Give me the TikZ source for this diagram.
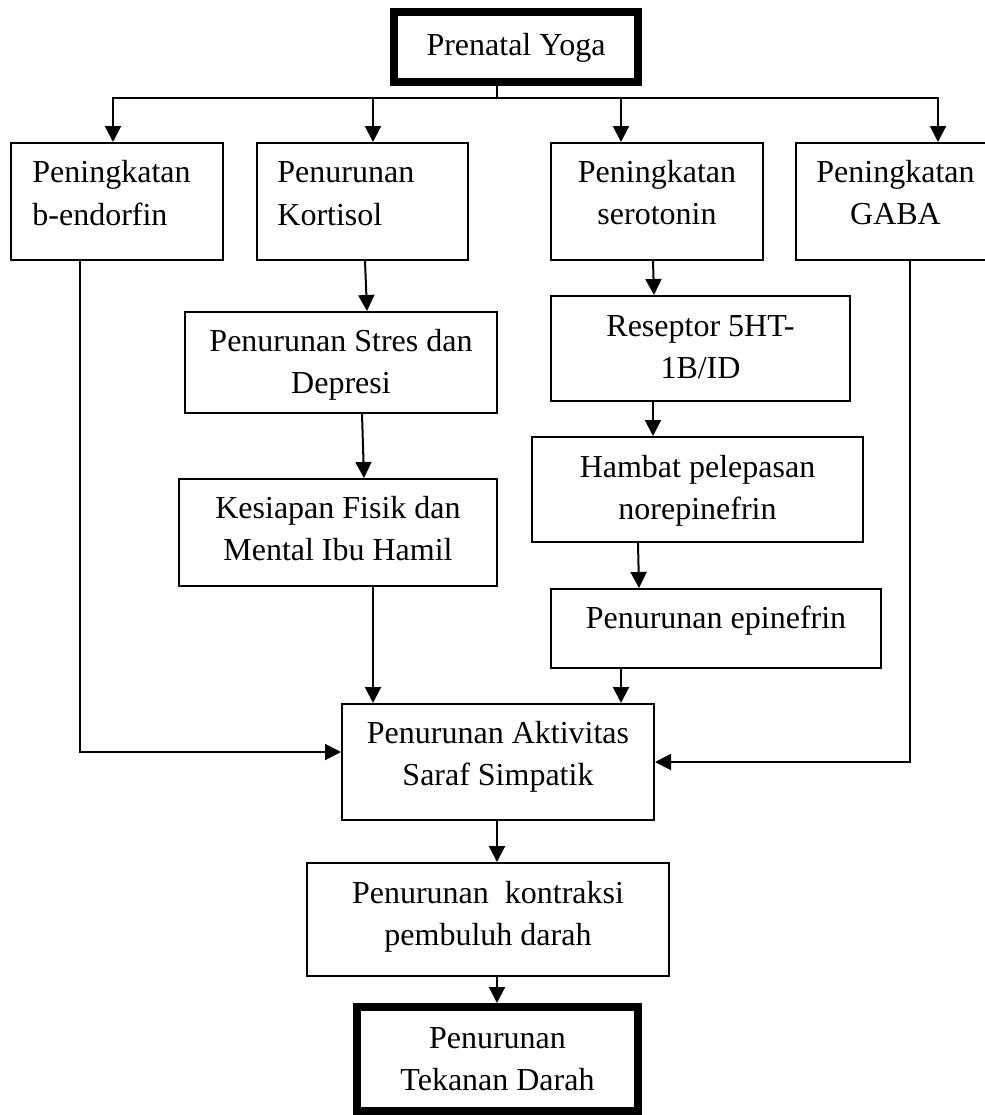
\documentclass[tikz,border=0pt]{standalone}
\usepackage{fontspec}
\setmainfont{Liberation Serif}
\usetikzlibrary{arrows.meta,calc}
\begin{document}
\begin{tikzpicture}[x=0.5pt,y=-0.5pt,
  box/.style={draw, line width=1pt, inner sep=0pt},
  thickbox/.style={draw, line width=4pt, inner sep=0pt},
  txt/.style={font=\fontsize{16}{21}\selectfont, align=center, anchor=base, inner sep=0pt},
  ltxt/.style={font=\fontsize{16}{21.5}\selectfont, align=left, anchor=base west, inner sep=0pt},
  arr/.style={line width=1pt, -{Triangle[length=8pt,width=8pt]}},
  ln/.style={line width=1pt, line cap=rect}]
\useasboundingbox (0,0) rectangle (985,1115);
\fill[white] (0,0) rectangle (985,1115);

% boxes
\node[thickbox, minimum width=122pt, minimum height=35pt] (yoga) at (516,47) {};
\node[box, minimum width=106pt, minimum height=58.5pt] (b1) at (117,201.5) {};
\node[box, minimum width=105.5pt, minimum height=58.5pt] (b2) at (362.5,201.5) {};
\node[box, minimum width=106pt, minimum height=58.5pt] (b3) at (657,201.5) {};
\node[box, minimum width=99.5pt, minimum height=58.5pt] (b4) at (895.5,201.5) {};
\node[box, minimum width=156pt, minimum height=50.5pt] (stres) at (341,362.5) {};
\node[box, minimum width=159pt, minimum height=53.5pt] (kes) at (338,532.5) {};
\node[box, minimum width=149.5pt, minimum height=52.5pt] (res) at (700.5,348.5) {};
\node[box, minimum width=165.5pt, minimum height=52.5pt] (ham) at (697.5,489.5) {};
\node[box, minimum width=165pt, minimum height=39.5pt] (epi) at (716,628.5) {};
\node[box, minimum width=156pt, minimum height=58pt] (akt) at (498,762) {};
\node[box, minimum width=181pt, minimum height=56.5pt] (kon) at (488,919.5) {};
\node[thickbox, minimum width=140.5pt, minimum height=52pt] (tek) at (497.5,1059) {};

% texts (anchor base = baseline of last line)
\node[txt] (tyoga) at (516,55) {Prenatal Yoga};
\node[ltxt] (tb1) at (32,225) {Peningkatan\\b-endorfin};
\node[ltxt] (tb2) at (277,225) {Penurunan\\Kortisol};
\node[txt] (tb3) at (657,224) {Peningkatan\\serotonin};
\node[txt] (tb4) at (895.5,224) {Peningkatan\\GABA};
\node[txt] (tstres) at (341,393) {Penurunan Stres dan\\Depresi};
\node[txt] (tkes) at (338,560) {Kesiapan Fisik dan\\Mental Ibu Hamil};
\node[txt] (tres) at (700.5,378) {Reseptor 5HT-\\1B/ID};
\node[txt] (tham) at (697.5,519) {Hambat pelepasan\\norepinefrin};
\node[txt] (tepi) at (716,628) {Penurunan epinefrin};
\node[txt] (takt) at (498,785) {Penurunan Aktivitas\\Saraf Simpatik};
\node[txt] (tkon) at (488,945) {Penurunan~ kontraksi\\pembuluh darah};
\node[txt] (ttek) at (497.5,1090) {Penurunan\\Tekanan Darah};

% top distribution
\coordinate (j) at (497,98);
\coordinate (h1) at (113,98);
\coordinate (h2) at (373,98);
\coordinate (h3) at (621,98);
\coordinate (h4) at (938,98);
\draw[ln] (yoga.south -| j) -- (j);
\draw[ln] (h1) -- (h4);
\draw[arr] (h1) -- (h1 |- b1.north);
\draw[arr] (h2) -- (h2 |- b2.north);
\draw[arr] (h3) -- (h3 |- b3.north);
\draw[arr] (h4) -- (h4 |- b4.north);

% left chain
\draw[arr] ($(b2.south)+(2.5,0)$) -- ($(stres.north)+(26,0)$);
\draw[arr] ($(stres.south)+(21,0)$) -- ($(kes.north)+(26,0)$);
\draw[arr] ($(kes.south)+(35,0)$) coordinate (t1) -- (t1 |- akt.north);

% right chain
\draw[arr] ($(b3.south)+(-4,0)$) -- ($(res.north)+(-46.5,0)$);
\draw[arr] ($(res.south)+(-47.5,0)$) -- ($(ham.north)+(-44.5,0)$);
\draw[arr] ($(ham.south)+(-59.5,0)$) -- ($(epi.north)+(-77,0)$);
\draw[arr] ($(epi.south)+(-95,0)$) coordinate (t2) -- (t2 |- akt.north);

% side branches
\draw[arr] ($(b1.south)+(-37,0)$) |- ($(akt.west)+(0,-10)$);
\draw[arr] ($(b4.south)+(14.5,0)$) |- (akt.east);

% bottom chain
\draw[arr] ($(akt.south)+(-1,0)$) coordinate (t3) -- (t3 |- kon.north);
\draw[arr] ($(kon.south)+(9,0)$) coordinate (t4) -- (t4 |- tek.north);
\end{tikzpicture}
\end{document}
